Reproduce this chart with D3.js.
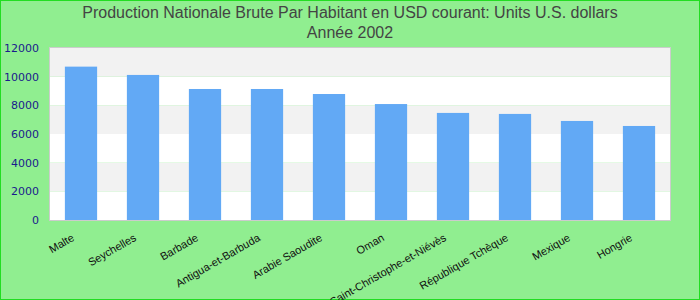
<!DOCTYPE html>
<html>
<head>
<meta charset="utf-8">
<script src="https://cdn.jsdelivr.net/npm/d3@7"></script>
<style>
  body { margin: 0; }
  svg { display: block; }
</style>
</head>
<body>
<svg id="chart" width="700" height="300"></svg>
<script>
const titleLines = ["Production Nationale Brute Par Habitant en USD courant: Units U.S. dollars", "Année 2002"];
const countries = ["Malte", "Seychelles", "Barbade", "Antigua-et-Barbuda", "Arabie Saoudite", "Oman",
  "Saint-Christophe-et-Niévès", "République Tchèque", "Mexique", "Hongrie"];
const values = [10700, 10120, 9140, 9140, 8790, 8090, 7470, 7400, 6910, 6560];
const yTicks = [0, 2000, 4000, 6000, 8000, 10000, 12000];

const svg = d3.select("#chart");
const width = +svg.attr("width");
const height = +svg.attr("height");
const margin = { top: 48, right: 30, bottom: 80, left: 50 };

svg.append("rect")
  .attr("x", 0.5).attr("y", 0.5)
  .attr("width", width - 1).attr("height", height - 1)
  .attr("fill", "#90ee90")
  .attr("stroke", "#22dd22");

const x = d3.scaleBand()
  .domain(countries)
  .range([margin.left, width - margin.right])
  .paddingInner(0.48)
  .paddingOuter(0.24);

const y = d3.scaleLinear()
  .domain([0, 12000])
  .range([height - margin.bottom, margin.top]);

// stripes
const bands = d3.pairs(yTicks);
svg.selectAll(".band")
  .data(bands)
  .enter()
  .append("rect")
  .attr("x", margin.left)
  .attr("width", width - margin.right - margin.left)
  .attr("y", d => y(d[1]))
  .attr("height", d => y(d[0]) - y(d[1]))
  .attr("fill", (d, i) => i % 2 === 0 ? "#ffffff" : "#f2f2f2");

svg.append("rect")
  .attr("x", margin.left - 0.5)
  .attr("y", margin.top - 0.5)
  .attr("width", width - margin.right - margin.left + 1)
  .attr("height", height - margin.bottom - margin.top + 1)
  .attr("fill", "none")
  .attr("stroke", "#cccccc");

svg.selectAll(".bar")
  .data(values)
  .enter()
  .append("rect")
  .attr("x", (d, i) => x(countries[i]))
  .attr("width", x.bandwidth())
  .attr("y", d => y(d))
  .attr("height", d => y(0) - y(d))
  .attr("fill", "#62a9f5");

// y axis
svg.append("g")
  .attr("transform", `translate(${margin.left - 11},0)`)
  .call(d3.axisLeft(y).tickValues(yTicks).tickFormat(d3.format("d")).tickSize(0).tickPadding(0))
  .call(g => g.select(".domain").remove())
  .selectAll("text")
  .attr("fill", "#1a1a8c")
  .style("font-family", "DejaVu Sans, sans-serif")
  .style("font-size", "11px");

// x labels
svg.selectAll(".xlab")
  .data(countries)
  .enter()
  .append("text")
  .attr("transform", d => `translate(${x(d) + x.bandwidth() / 2 - 6},${height - margin.bottom + 20}) rotate(-30)`)
  .attr("text-anchor", "end")
  .attr("font-family", "Liberation Sans, Arial, sans-serif")
  .attr("font-size", "11px")
  .attr("fill", "#111")
  .text(d => d);

svg.selectAll(".title")
  .data(titleLines)
  .enter()
  .append("text")
  .attr("x", width / 2)
  .attr("y", (d, i) => 18 + i * 20)
  .attr("text-anchor", "middle")
  .attr("font-family", "Liberation Sans, sans-serif")
  .attr("font-size", "16px")
  .attr("fill", "#444")
  .text(d => d);
</script>
</body>
</html>
